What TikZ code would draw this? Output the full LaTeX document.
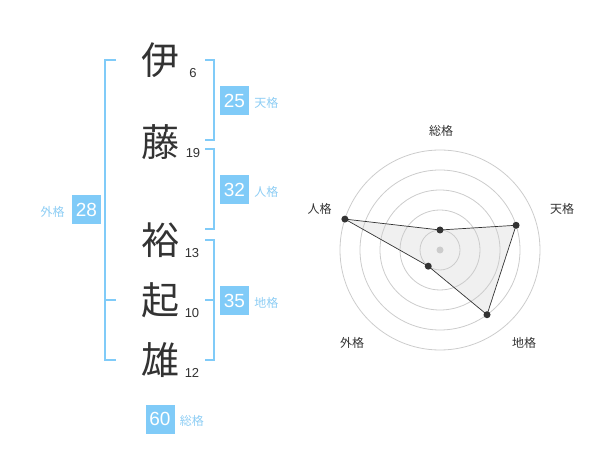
\documentclass[tikz,border=0pt]{standalone}
\usepackage{fontspec}
\setmainfont{Liberation Sans}
\newfontfamily\cjk{Noto Sans CJK JP}
\usetikzlibrary{positioning}
\definecolor{kakublue}{HTML}{80CBF8}
\definecolor{kakutext}{HTML}{8DCDF4}
\definecolor{ink}{HTML}{333333}
\definecolor{ring}{HTML}{CCCCCC}
\definecolor{area}{HTML}{F0F0F0}
\tikzset{
  kanji/.style={text=ink,font=\cjk\fontsize{38}{38}\selectfont,inner sep=0pt},
  strokes/.style={text=ink,font=\fontsize{13}{13}\selectfont,inner sep=0pt},
  kakubox/.style={fill=kakublue,text=white,minimum size=29pt,inner sep=0pt,font=\fontsize{19}{19}\selectfont},
  kakulabel/.style={text=kakutext,font=\cjk\fontsize{12}{12}\selectfont,inner sep=0pt},
  bracket/.style={draw=kakublue,line width=2pt},
  axislabel/.style={text=ink,font=\cjk\fontsize{12}{12}\selectfont,inner sep=0pt},
  dot/.style={circle,fill=ink,inner sep=0pt,minimum size=7pt},
}
\begin{document}
\begin{tikzpicture}[x=1pt,y=-1pt]
    \useasboundingbox (0,0) rectangle (600,470);
    % name and strokes
    \node[kanji] (c1) at (160,60) {伊};
    \node[kanji] (c2) at (160,142) {藤};
    \node[kanji] (c3) at (160,240) {裕};
    \node[kanji] (c4) at (160,300) {起};
    \node[kanji] (c5) at (160,360) {雄};
    \node[strokes] (s1) at (193,73) {6};
    \node[strokes] (s2) at (193,153) {19};
    \node[strokes] (s3) at (192,253) {13};
    \node[strokes] (s4) at (192,313) {10};
    \node[strokes] (s5) at (192,373) {12};
    % brackets
    \draw[bracket] (205,60) -| (214,140) -- (205,140);
    \draw[bracket] (205,149) -| (214,229) -- (205,229);
    \draw[bracket] (205,240) -| (214,360) -- (205,360);
    \draw[bracket] (205,300) -- (214,300);
    \draw[bracket] (116,60) -| (105,360) -- (116,360);
    \draw[bracket] (105,300) -- (116,300);
    % kaku
    \node[kakubox] (b25) at (234.5,100.5) {25};
    \node[kakulabel,anchor=base west] (l25) at ([xshift=5pt]b25.base east) {天格};
    \node[kakubox] (b32) at (234.5,190) {32};
    \node[kakulabel,anchor=base west] (l32) at ([xshift=5pt]b32.base east) {人格};
    \node[kakubox] (b35) at (234.5,300.5) {35};
    \node[kakulabel,anchor=base west] (l35) at ([xshift=5pt]b35.base east) {地格};
    \node[kakubox] (b28) at (86.5,210) {28};
    \node[kakulabel,anchor=base east] (l28) at ([xshift=-7pt]b28.base west) {外格};
    \node[kakubox] (b60) at (160,419) {60};
    \node[kakulabel,anchor=base west] (l60) at ([xshift=5pt]b60.base east) {総格};
    % radar
    \begin{scope}[shift={(440,250)}]
    \coordinate (o) at (0,0);
    \coordinate (psou) at (-90:20);
    \coordinate (pten) at (-18:80);
    \coordinate (pchi) at (54:80);
    \coordinate (pgai) at (126:20);
    \coordinate (pjin) at (198:100);
    \fill[area] (psou) -- (pten) -- (pchi) -- (pgai) -- (pjin) -- cycle;
    \foreach \r in {20,40,...,100}
        \draw[ring,line width=0.8pt] (o) circle[radius=\r];
    \fill[ring] (o) circle[radius=3.5];
    \draw[ink,line width=0.7pt] (psou) -- (pten) -- (pchi) -- (pgai) -- (pjin) -- cycle;
    \foreach \p in {psou,pten,pchi,pgai,pjin}
        \node[dot] at (\p) {};
    \end{scope}
    \node[axislabel] (asou) at (441,131) {総格};
    \node[axislabel] (aten) at (562,209) {天格};
    \node[axislabel] (ajin) at (319.5,209) {人格};
    \node[axislabel] (agai) at (352,342.5) {外格};
    \node[axislabel] (achi) at (524,342.5) {地格};
\end{tikzpicture}
\end{document}
